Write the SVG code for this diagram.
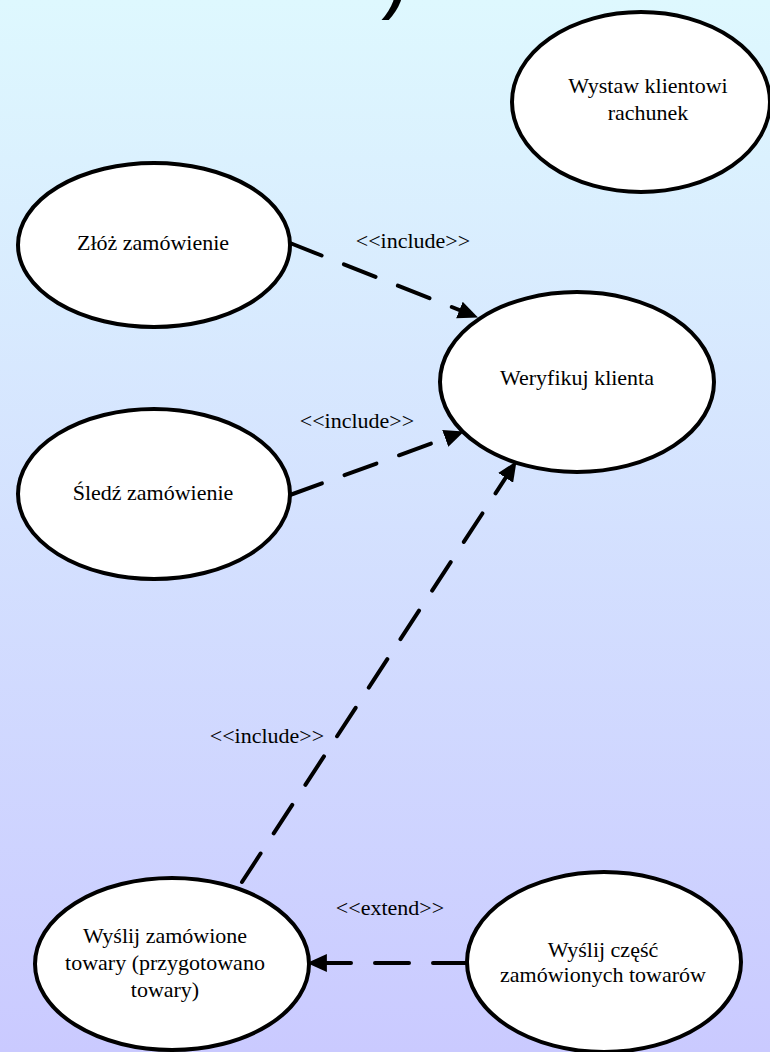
<svg xmlns="http://www.w3.org/2000/svg" width="770" height="1052" viewBox="0 0 770 1052">
<defs>
<linearGradient id="bg" x1="0" y1="0" x2="0" y2="1">
<stop offset="0" stop-color="#DEF8FE"/>
<stop offset="1" stop-color="#CACAFF"/>
</linearGradient>
<marker id="arr" markerUnits="userSpaceOnUse" markerWidth="20" markerHeight="18" refX="8" refY="8" orient="auto" viewBox="0 0 18 16">
<path d="M0,0 L18,8 L0,16 z" fill="#000"/>
</marker>
<style>
.node ellipse{fill:#fff;stroke:#000;stroke-width:4}
.t{font-size:22px;fill:#000;text-anchor:middle}
.conn path{fill:none;stroke:#000;stroke-width:4;stroke-dasharray:34 24;stroke-linecap:round;marker-end:url(#arr)}
</style>
</defs>
<rect x="0" y="0" width="770" height="1052" fill="url(#bg)"/>
<text x="381" y="2" font-family="Liberation Sans, Arial, sans-serif" font-size="86" fill="#000">)</text>
<g id="connectors" class="conn">
<path d="M290,243 L467.7,313.3"/>
<path d="M290,495 L453.6,435.4"/>
<path d="M242,882 L510.5,470.4"/>
<path d="M467,963 L318,963"/>
</g>
<g id="conn-labels" font-family="Liberation Serif, Times New Roman, serif">
<text class="t" x="413" y="248">&lt;&lt;include&gt;&gt;</text>
<text class="t" x="357" y="428">&lt;&lt;include&gt;&gt;</text>
<text class="t" x="267" y="743">&lt;&lt;include&gt;&gt;</text>
<text class="t" x="390" y="915">&lt;&lt;extend&gt;&gt;</text>
</g>
<g id="wystaw" class="node" font-family="Liberation Serif, Times New Roman, serif">
<ellipse cx="641" cy="102" rx="129" ry="90"/>
<text class="t" x="648" y="93">Wystaw klientowi</text>
<text class="t" x="648" y="120">rachunek</text>
</g>
<g id="zloz" class="node" font-family="Liberation Serif, Times New Roman, serif">
<ellipse cx="154" cy="245" rx="136" ry="82"/>
<text class="t" x="153" y="250">Złóż zamówienie</text>
</g>
<g id="weryfikuj" class="node" font-family="Liberation Serif, Times New Roman, serif">
<ellipse cx="577" cy="382" rx="137" ry="90"/>
<text class="t" x="577" y="385">Weryfikuj klienta</text>
</g>
<g id="sledz" class="node" font-family="Liberation Serif, Times New Roman, serif">
<ellipse cx="154" cy="494" rx="136" ry="85"/>
<text class="t" x="153" y="500">Śledź zamówienie</text>
</g>
<g id="wyslij" class="node" font-family="Liberation Serif, Times New Roman, serif">
<ellipse cx="172" cy="964" rx="137" ry="86"/>
<text class="t" x="165" y="943">Wyślij zamówione</text>
<text class="t" x="165" y="970">towary (przygotowano</text>
<text class="t" x="165" y="997">towary)</text>
</g>
<g id="wyslij-czesc" class="node" font-family="Liberation Serif, Times New Roman, serif">
<ellipse cx="604" cy="962" rx="137" ry="90"/>
<text class="t" x="603" y="957">Wyślij część</text>
<text class="t" x="603" y="982">zamówionych towarów</text>
</g>
</svg>
